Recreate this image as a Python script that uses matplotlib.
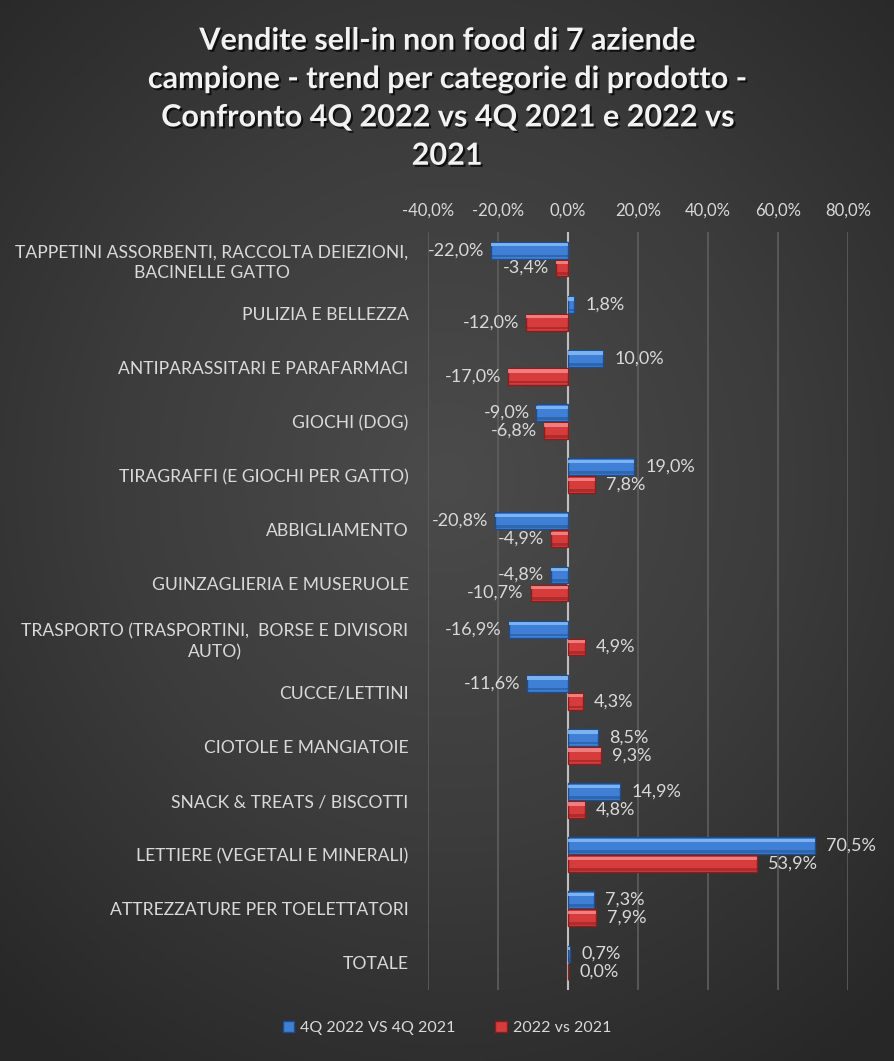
import numpy as np
import matplotlib.pyplot as plt
import matplotlib.patheffects as pe
from matplotlib.colors import LinearSegmentedColormap
from matplotlib.patches import Patch

plt.rcParams['font.family'] = ['Lato', 'DejaVu Sans']

categories = [
    "TAPPETINI ASSORBENTI, RACCOLTA DEIEZIONI,\nBACINELLE GATTO",
    "PULIZIA E BELLEZZA",
    "ANTIPARASSITARI E PARAFARMACI",
    "GIOCHI (DOG)",
    "TIRAGRAFFI (E GIOCHI PER GATTO)",
    "ABBIGLIAMENTO",
    "GUINZAGLIERIA E MUSERUOLE",
    "TRASPORTO (TRASPORTINI,  BORSE E DIVISORI\nAUTO)",
    "CUCCE/LETTINI",
    "CIOTOLE E MANGIATOIE",
    "SNACK & TREATS / BISCOTTI",
    "LETTIERE (VEGETALI E MINERALI)",
    "ATTREZZATURE PER TOELETTATORI",
    "TOTALE",
]
q4_vs_q4 = [-22.0, 1.8, 10.0, -9.0, 19.0, -20.8, -4.8, -16.9, -11.6, 8.5, 14.9, 70.5, 7.3, 0.7]
y22_vs_y21 = [-3.4, -12.0, -17.0, -6.8, 7.8, -4.9, -10.7, 4.9, 4.3, 9.3, 4.8, 53.9, 7.9, 0.0]
series_names = ["4Q 2022 VS 4Q 2021", "2022 vs 2021"]
x_ticks = [-40, -20, 0, 20, 40, 60, 80]

txt_col = '#d9d9d9'

fig = plt.figure(figsize=(8.94, 10.61), dpi=100)

# radial gradient background
bg = fig.add_axes([0, 0, 1, 1], zorder=-10)
yy, xx = np.mgrid[0:1:400j, 0:1:400j]
r = np.sqrt((xx - 0.5) ** 2 + ((yy - 0.55) * 1.1) ** 2)
cmap_bg = LinearSegmentedColormap.from_list('bg', ['#4b4b4b', '#3c3c3c', '#272727'])
bg.imshow(r, cmap=cmap_bg, extent=[0, 1, 0, 1], aspect='auto', origin='lower', vmin=0, vmax=0.75)
bg.axis('off')

ax = fig.add_axes([0.4787, 0.0669, 0.4698, 0.7144])
ax.patch.set_alpha(0)

n = len(categories)
y = np.arange(n)
h = 0.31
gap = 0.01

def bevel_bars(yc, vals, base, light, dark):
    ax.barh(yc, vals, height=h, color=base, edgecolor=dark, linewidth=1.0, zorder=3)
    ax.barh(yc - h * 0.32, vals, height=h * 0.2, color=light, linewidth=0, zorder=4, alpha=0.85)
    ax.barh(yc + h * 0.34, vals, height=h * 0.16, color=dark, linewidth=0, zorder=4, alpha=0.5)

yb = y - h / 2 - gap
yr = y + h / 2 + gap
bevel_bars(yb, q4_vs_q4, '#3f80d6', '#86bcf4', '#1f4d8c')
bevel_bars(yr, y22_vs_y21, '#d63c3c', '#f48a8a', '#8a1e1e')

def fmt(v):
    return f"{v:.1f}%".replace('.', ',')

for yc, vals in ((yb, q4_vs_q4), (yr, y22_vs_y21)):
    for yi, v in zip(yc, vals):
        if v < 0:
            ax.annotate(fmt(v), (v, yi), xytext=(-5, 0), textcoords='offset points',
                        ha='right', va='center', color=txt_col, fontsize=13, zorder=5)
        else:
            ax.annotate(fmt(v), (v, yi), xytext=(8, 0), textcoords='offset points',
                        ha='left', va='center', color=txt_col, fontsize=13, zorder=5)

ax.set_xlim(-40, 80)
ax.set_ylim(n - 0.5, -0.5)
ax.set_xticks(x_ticks)
ax.set_xticklabels([fmt(t) for t in x_ticks])
ax.xaxis.tick_top()
ax.set_yticks(y)
ax.set_yticklabels(categories)
for lbl in ax.get_yticklabels():
    lbl.set_multialignment('center')
    lbl.set_linespacing(1.35)
ax.tick_params(axis='x', length=0, pad=10, labelsize=12, labelcolor=txt_col)
ax.tick_params(axis='y', length=0, pad=14, labelsize=12.6, labelcolor=txt_col)
ax.grid(axis='x', color='#5e5e5e', linewidth=1.2, zorder=0)
ax.axvline(0, color='#bfbfbf', linewidth=1.5, zorder=2)
for s in ax.spines.values():
    s.set_visible(False)

fig.text(0.5, 0.84,
         "Vendite sell-in non food di 7 aziende\ncampione - trend per categorie di prodotto -\n"
         "Confronto 4Q 2022 vs 4Q 2021 e 2022 vs\n2021",
         ha='center', va='bottom', color='#f2f2f2', fontsize=22, fontweight='bold',
         linespacing=1.45,
         path_effects=[pe.withSimplePatchShadow(offset=(1.5, -1.5), shadow_rgbFace='black', alpha=0.7)])

handles = [Patch(facecolor='#3f80d6', edgecolor='#1f4d8c'), Patch(facecolor='#d63c3c', edgecolor='#8a1e1e')]
fig.legend(handles, series_names, loc='center', bbox_to_anchor=(0.5, 0.031), ncol=2, frameon=False,
           fontsize=11.5, labelcolor=txt_col, handlelength=0.7, handleheight=0.7, handletextpad=0.4,
           columnspacing=2.5)

fig.savefig('out.png', dpi=100)
